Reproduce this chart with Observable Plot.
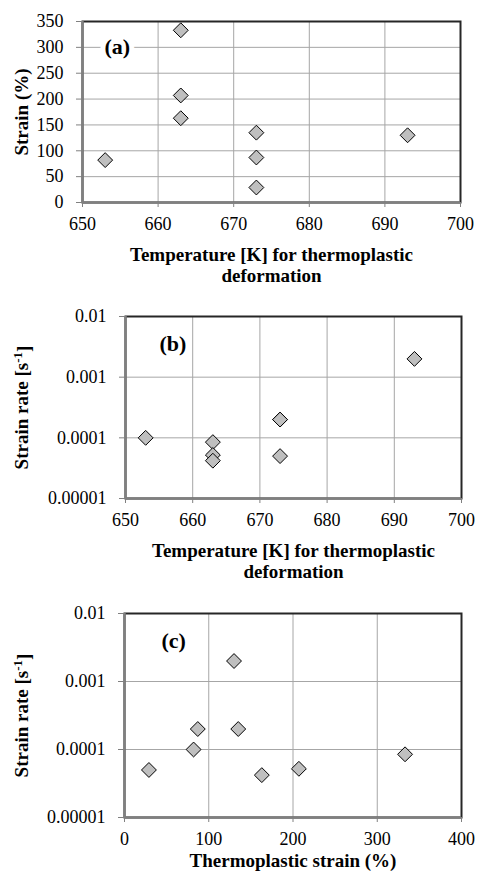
<!DOCTYPE html>
<html>
<head>
<meta charset="utf-8">
<script src="https://cdn.jsdelivr.net/npm/d3@7"></script>
<script src="https://cdn.jsdelivr.net/npm/@observablehq/plot@0.6"></script>
<style>
  html, body { margin: 0; padding: 0; background: #fff; }
  #chart { position: relative; width: 477px; height: 873px; background: #fff; overflow: hidden; }
  #chart > div { position: absolute; left: 0; }
  #chart svg, #chart svg text, #chart svg tspan { font-family: "Liberation Serif", "Times New Roman", "DejaVu Serif", serif !important; }
</style>
</head>
<body>
<div id="chart"></div>
<script>
// ---- data (one entry per sample) ----
const temperature = [653, 663, 663, 663, 673, 673, 673, 693];           // K
const strain      = [82, 333, 207, 163, 135, 87, 29, 130];               // %
const strainRate  = [1e-4, 8.5e-5, 5.2e-5, 4.2e-5, 2e-4, 2e-4, 5e-5, 2e-3]; // s^-1

// ---- tick labels ----
const tempTicks   = [650, 660, 670, 680, 690, 700];
const strainTicks = [0, 50, 100, 150, 200, 250, 300, 350];
const rateTicks   = [0.00001, 0.0001, 0.001, 0.01];
const strainXTicks = [0, 100, 200, 300, 400];

// ---- texts ----
const tags = ["(a)", "(b)", "(c)"];
const xTitles = ["Temperature [K] for thermoplastic\ndeformation",
                 "Temperature [K] for thermoplastic\ndeformation",
                 "Thermoplastic strain (%)"];
const yTitles = ["Strain (%)", "Strain rate [s", "Strain rate [s"];

const samples = temperature.map((t, i) => ({temperature: t, strain: strain[i], rate: strainRate[i]}));

const W = 477;
const FONT = "Liberation Serif, Times New Roman, serif";

function panel(cfg) {
  const {svgTop, svgHeight, frame, xKey, yKey, xTicks, yTicks, yLog, tag, tagDx, tagDy, xTitle, xTitleDy, yTitle, sup} = cfg;
  const xDomain = [xTicks[0], xTicks[xTicks.length - 1]];
  const yDomain = [yTicks[0], yTicks[yTicks.length - 1]];
  const plot = Plot.plot({
    width: W,
    height: svgHeight,
    marginLeft: frame.left,
    marginRight: W - frame.right,
    marginTop: frame.top - svgTop,
    marginBottom: svgTop + svgHeight - frame.bottom,
    style: {fontFamily: FONT, fontSize: "18px", color: "#000", background: "#fff", overflow: "visible"},
    x: {domain: xDomain},
    y: yLog ? {type: "log", domain: yDomain} : {domain: yDomain},
    marks: [
      Plot.gridX(xTicks, {stroke: "#a6a6a6", strokeOpacity: 1, strokeWidth: 1}),
      Plot.gridY(yTicks, {stroke: "#a6a6a6", strokeOpacity: 1, strokeWidth: 1}),
      Plot.text([tag], {frameAnchor: "top-left", dx: tagDx, dy: tagDy, fontWeight: "bold", fontSize: 22,
        fill: "#000", stroke: "#fff", strokeWidth: 10, paintOrder: "stroke", lineAnchor: "top", textAnchor: "start"}),
      Plot.frame({stroke: "#262626", strokeWidth: 2}),
      Plot.ruleX([xDomain[0]], {stroke: "#808080", strokeWidth: 2.5}),
      Plot.ruleY([yDomain[0]], {stroke: "#808080", strokeWidth: 2.5}),
      Plot.axisX(xTicks, {tickSize: 5, tickPadding: 10, label: null, stroke: "#808080", fill: "#000", fontSize: 18}),
      Plot.axisY(yTicks, {tickSize: 6, tickPadding: 13, label: null, stroke: "#808080", fill: "#000", fontSize: 18,
        tickFormat: d => String(d)}),
      Plot.dot(samples, {x: xKey, y: yKey, symbol: "diamond2", r: 6.7, fill: "#bfbfbf", stroke: "#000", strokeWidth: 1}),
      Plot.text([xTitle], {frameAnchor: "bottom", dy: xTitleDy, lineAnchor: "top", lineHeight: 1.1,
        fontWeight: "bold", fontSize: 19, textAnchor: "middle", fill: "#000"}),
      Plot.text([yTitle], {frameAnchor: "left", dx: -(frame.left - 21), rotate: -90, lineAnchor: "middle",
        fontWeight: "bold", fontSize: 19, textAnchor: "middle", fill: "#000", className: "ytitle"})
    ]
  });
  if (sup) {
    const t = d3.select(plot).select("g.ytitle text");
    t.text(null);
    t.append("tspan").text(yTitle);
    t.append("tspan").attr("dy", "-0.45em").attr("font-size", 13).text("-1");
    t.append("tspan").attr("dy", "0.45em").text("]");
  }
  const holder = document.createElement("div");
  holder.style.top = svgTop + "px";
  holder.appendChild(plot);
  document.getElementById("chart").appendChild(holder);
}

panel({svgTop: 0, svgHeight: 290, frame: {left: 82, right: 460, top: 21, bottom: 202},
  xKey: "temperature", yKey: "strain", xTicks: tempTicks, yTicks: strainTicks, yLog: false,
  tag: tags[0], tagDx: 22, tagDy: 17, xTitle: xTitles[0], xTitleDy: 44, yTitle: yTitles[0], sup: false});

panel({svgTop: 295, svgHeight: 295, frame: {left: 125, right: 461, top: 316, bottom: 498},
  xKey: "temperature", yKey: "rate", xTicks: tempTicks, yTicks: rateTicks, yLog: true,
  tag: tags[1], tagDx: 34, tagDy: 19, xTitle: xTitles[1], xTitleDy: 44, yTitle: yTitles[1], sup: true});

panel({svgTop: 592, svgHeight: 281, frame: {left: 124, right: 461, top: 613, bottom: 817},
  xKey: "strain", yKey: "rate", xTicks: strainXTicks, yTicks: rateTicks, yLog: true,
  tag: tags[2], tagDx: 37, tagDy: 19, xTitle: xTitles[2], xTitleDy: 35, yTitle: yTitles[2], sup: true});
</script>
</body>
</html>
